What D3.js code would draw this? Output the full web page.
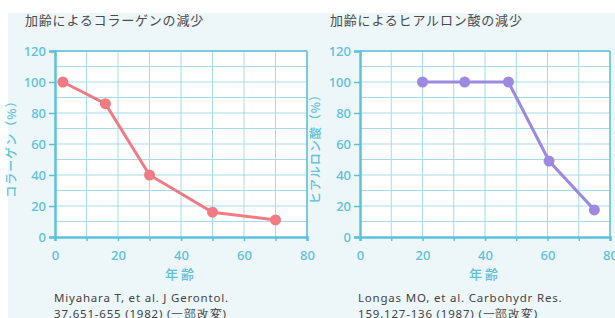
<!DOCTYPE html>
<html>
<head>
<meta charset="utf-8">
<script src="https://cdn.jsdelivr.net/npm/d3@7"></script>
<style>
  html, body { margin: 0; padding: 0; background: #fff; }
  svg { display: block; font-family: "Noto Sans CJK JP", "Noto Sans", sans-serif; }
</style>
</head>
<body>
<svg id="chart" width="615" height="318"></svg>
<script>
// collagen vs age (Miyahara 1982), hyaluronic acid vs age (Longas 1987)
const collagenAge = [2.5, 16, 30, 50, 70];
const collagenPct = [100, 86, 40, 16, 11];
const hyaluronAge = [20, 33.5, 47.5, 60.5, 75];
const hyaluronPct = [100, 100, 100, 49, 17.5];
const xTicks = [0, 20, 40, 60, 80];
const yTicks = [0, 20, 40, 60, 80, 100, 120];

const CYAN = "#5cc1da";
const GRID = "#a6dbe8";

const svg = d3.select("#chart");
svg.append("rect").attr("x", 8).attr("y", 13).attr("width", 607).attr("height", 305).attr("fill", "#edf6f9");

function panel(opt) {
  const x = d3.scaleLinear().domain([0, 80]).range([opt.x0, opt.x1]);
  const y = d3.scaleLinear().domain([0, 120]).range([237, 51]);
  const g = svg.append("g");

  g.append("text").attr("x", opt.titleX).attr("y", 25)
    .attr("font-size", 13).attr("font-weight", 400).attr("fill", "#4a4a4a")
    .attr("letter-spacing", 0.8).text(opt.title);

  g.append("rect").attr("x", x(0)).attr("y", y(120))
    .attr("width", x(80) - x(0)).attr("height", y(0) - y(120)).attr("fill", "#fff");

  // grid every 10
  const grid = g.append("g").attr("stroke", GRID).attr("stroke-width", 1);
  grid.selectAll("line.v").data(d3.range(10, 90, 10)).enter().append("line")
    .attr("x1", (d) => x(d)).attr("x2", (d) => x(d)).attr("y1", y(120)).attr("y2", y(0));
  grid.selectAll("line.h").data(d3.range(10, 130, 10)).enter().append("line")
    .attr("y1", (d) => y(d)).attr("y2", (d) => y(d)).attr("x1", x(0)).attr("x2", x(80));
  g.append("line").attr("x1", x(80)).attr("x2", x(80)).attr("y1", y(120)).attr("y2", y(0))
    .attr("stroke", CYAN).attr("stroke-width", 1.5);
  g.append("line").attr("x1", x(0)).attr("x2", x(80)).attr("y1", y(120)).attr("y2", y(120))
    .attr("stroke", CYAN).attr("stroke-width", 1.5);

  const xAxis = g.append("g").attr("transform", `translate(0,${y(0)})`)
    .call(d3.axisBottom(x).tickValues(d3.range(0, 90, 10)).tickSize(4)
      .tickFormat((d) => xTicks.includes(d) ? d : ""));
  const yAxis = g.append("g").attr("transform", `translate(${x(0)},0)`)
    .call(d3.axisLeft(y).tickValues(yTicks).tickSize(6).tickPadding(3));
  [xAxis, yAxis].forEach((a) => {
    a.select(".domain").attr("stroke", CYAN).attr("stroke-width", 2.5);
    a.selectAll(".tick line").attr("stroke", CYAN).attr("stroke-width", 1.5);
    a.selectAll(".tick text").attr("fill", CYAN).attr("font-size", 13).attr("font-weight", 500)
      .attr("font-family", "'Noto Sans', sans-serif");
  });
  xAxis.selectAll(".tick text").attr("dy", "1.2em");
  yAxis.selectAll(".tick text").attr("dy", "0.35em");

  g.append("text").attr("x", (x(0) + x(80)) / 2).attr("y", 279).attr("text-anchor", "middle")
    .attr("font-size", 13).attr("font-weight", 500).attr("fill", CYAN).attr("letter-spacing", 3)
    .text("年齢");

  g.append("text").attr("transform", `translate(${opt.ylabX},${146}) rotate(-90)`)
    .attr("text-anchor", "middle").attr("font-size", 12).attr("font-weight", 500)
    .attr("fill", CYAN).attr("letter-spacing", 1).text(opt.ylabel);

  const pts = opt.ages.map((a, i) => [a, opt.pct[i]]);
  g.append("path").datum(pts)
    .attr("d", d3.line().x((d) => x(d[0])).y((d) => y(d[1])))
    .attr("fill", "none").attr("stroke", opt.color).attr("stroke-width", 3);
  g.selectAll("circle").data(pts).enter().append("circle")
    .attr("cx", (d) => x(d[0])).attr("cy", (d) => y(d[1])).attr("r", 5.5).attr("fill", opt.color);

  const cite = g.append("text").attr("font-size", 11.5).attr("fill", "#444")
    .attr("font-family", "'Noto Sans', sans-serif").attr("letter-spacing", 0.8);
  cite.append("tspan").attr("x", opt.citeX).attr("y", 302).text(opt.cite[0]);
  cite.append("tspan").attr("x", opt.citeX).attr("y", 318).text(opt.cite[1]);
}

panel({
  x0: 55, x1: 307, titleX: 25, ylabX: 16, citeX: 54,
  title: "加齢によるコラーゲンの減少", ylabel: "コラーゲン（%）",
  ages: collagenAge, pct: collagenPct, color: "#f27b83",
  cite: ["Miyahara T, et al. J Gerontol.", "37,651-655 (1982) (一部改変)"],
});
panel({
  x0: 360, x1: 610, titleX: 330, ylabX: 320, citeX: 358,
  title: "加齢によるヒアルロン酸の減少", ylabel: "ヒアルロン酸（%）",
  ages: hyaluronAge, pct: hyaluronPct, color: "#9d89df",
  cite: ["Longas MO, et al. Carbohydr Res.", "159,127-136 (1987) (一部改変)"],
});
</script>
</body>
</html>
